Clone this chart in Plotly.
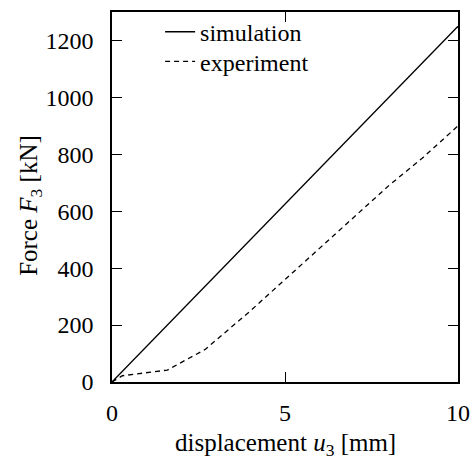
import plotly.graph_objects as go

# data
sim_x = [0, 10]
sim_F = [0, 1250]
exp_x = [0, 0.3, 1.6, 2.7, 4.0, 5.0, 6.0, 7.0, 8.0, 9.0, 10.0]
exp_F = [0, 22, 42, 115, 250, 360, 470, 580, 690, 790, 900]
x_ticks = [0, 5, 10]
y_ticks = [0, 200, 400, 600, 800, 1000, 1200]

FONT = "Liberation Serif"
FS = 24
TFS = 25

fig = go.Figure()
fig.add_trace(go.Scatter(x=sim_x, y=sim_F, mode="lines", name="simulation",
                         line=dict(color="black", width=1.3), legend="legend"))
fig.add_trace(go.Scatter(x=exp_x, y=exp_F, mode="lines", name="experiment",
                         line=dict(color="black", width=1.3, dash="5px,4px"), legend="legend2"))

axis_common = dict(showline=True, linecolor="black", linewidth=1.5, mirror="ticks",
                   ticks="inside", ticklen=10, tickwidth=1, tickcolor="black",
                   showgrid=False, zeroline=False, automargin=False,
                   tickfont=dict(family=FONT, size=FS, color="black"))

fig.update_xaxes(range=[0, 10], tickvals=x_ticks, ticktext=[str(v) for v in x_ticks],
                 ticklabelstandoff=8, **axis_common)
fig.update_yaxes(range=[0, 1300], tickvals=y_ticks, ticktext=[str(v) for v in y_ticks],
                 ticklabelstandoff=12, **axis_common)

fig.add_annotation(text="displacement <i>u</i><sub>3</sub> [mm]", xref="paper", yref="paper",
                   x=0.5, y=-0.17, xanchor="center", yanchor="middle", showarrow=False,
                   font=dict(family=FONT, size=TFS, color="black"))
fig.add_annotation(text="Force <i>F</i><sub>3</sub> [kN]", xref="paper", yref="paper",
                   x=-0.236, y=0.477, xanchor="center", yanchor="middle", showarrow=False,
                   textangle=-90, font=dict(family=FONT, size=TFS, color="black"))

leg_common = dict(xanchor="left", yanchor="middle", bgcolor="rgba(0,0,0,0)", borderwidth=0,
                  font=dict(family=FONT, size=FS, color="black"))

fig.update_layout(
    width=473, height=463,
    margin=dict(l=112, r=15, t=11, b=81),
    plot_bgcolor="white", paper_bgcolor="white",
    font=dict(family=FONT, size=FS, color="black"),
    legend=dict(x=0.139, y=0.943, **leg_common),
    legend2=dict(x=0.139, y=0.863, **leg_common),
    showlegend=True,
)

fig.write_html("out.html", config={"displayModeBar": False},
               post_script="document.body.style.margin='0';document.body.style.overflow='hidden';")
